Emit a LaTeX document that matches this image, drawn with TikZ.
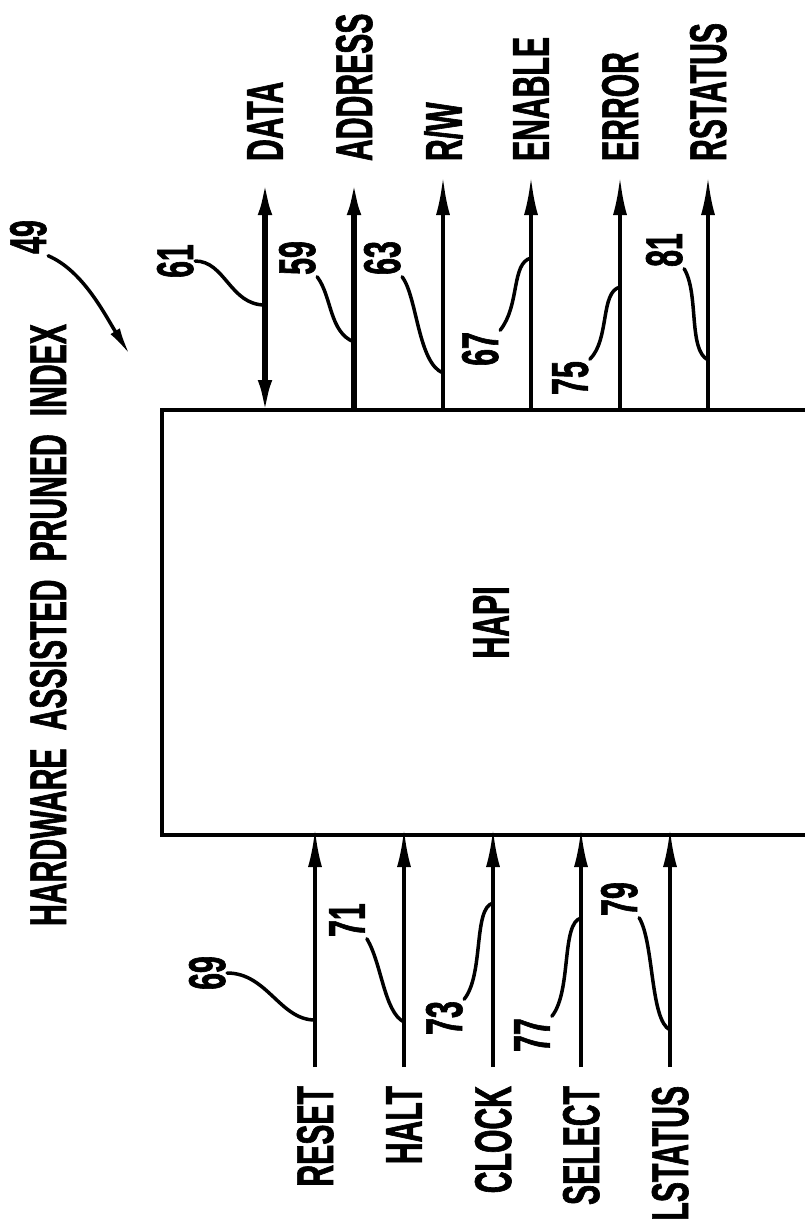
\documentclass[tikz,border=0pt]{standalone}
\usepackage{fontspec}
\setmainfont{Liberation Sans}[FakeStretch=0.58, FakeBold=1.2]
\usetikzlibrary{arrows.meta, calc}

\tikzset{
  sigtext/.style={font=\bfseries\fontsize{52}{52}\selectfont, rotate=90, text depth=0pt, outer sep=0pt},
  toplab/.style={sigtext, anchor=west, inner xsep=22pt, inner ysep=0pt},
  botlab/.style={sigtext, anchor=east, inner xsep=19pt, inner ysep=0pt},
  refnum/.style={sigtext, inner sep=2pt},
  block/.style={draw, line width=4.5pt, minimum width=658pt, minimum height=425pt, inner sep=0pt, outer sep=0pt},
  sig/.style={line width=3.5pt, -{Latex[length=38pt,width=14pt]}, shorten >=-6pt},
  bus/.style={sig, line width=6pt},
  dbus/.style={bus, {Latex[length=38pt,width=14pt]}-{Latex[length=38pt,width=14pt]}, shorten <=-8pt},
  lead/.style={line width=3.5pt, line cap=round},
}

\begin{document}
\begin{tikzpicture}[x=1pt, y=-1pt]
  % Page frame
  \useasboundingbox (0,0) rectangle (805,1228);

  % HAPI block (its right side runs off the page)
  \node[block] (hapi) at (491,622.5) {};
  \node[sigtext] (hapilab) at (hapi.center) {HAPI};

  % Title with its numeral
  \node[sigtext] (title) at (48,625) {HARDWARE\hskip18pt ASSISTED\hskip18pt PRUNED\hskip18pt INDEX};
  \node[refnum] (n49) at (28,237) {49};
  \coordinate (p49) at (130,355);
  \draw[lead, -{Latex[length=28pt,width=11pt]}] (n49.south west) .. controls +(35,15) and +(-25,-40) .. (p49);

  % Outputs along the top
  \foreach \x/\n/\t in {265/data/DATA, 354/addr/ADDRESS, 443/rw/{R/W}, 531/en/ENABLE, 620/err/ERROR, 708/rst/RSTATUS}
    \node[toplab] (\n) at (\x,183) {\t};

  % Inputs along the bottom
  \foreach \x/\n/\t in {315/reset/RESET, 404/halt/HALT, 493/clock/CLOCK, 581/sel/SELECT, 670/lst/LSTATUS}
    \node[botlab] (\n) at (\x,1067) {\t};

  % Signal lines
  \draw[dbus] (data.west |- hapi.north) -- (data.west);
  \draw[bus] (addr.west |- hapi.north) -- (addr.west);
  \foreach \n in {rw, en, err, rst}
    \draw[sig] (\n.west |- hapi.north) -- (\n.west);
  \foreach \n in {reset, halt, clock, sel, lst}
    \draw[sig] (\n.east) -- (\n.east |- hapi.south);

  % Reference numerals, top
  \node[refnum] (n61) at (175,261) {61};
  \node[refnum] (n59) at (297,258) {59};
  \node[refnum] (n63) at (382,258) {63};
  \node[refnum] (n67) at (480,349) {67};
  \node[refnum] (n75) at (570,378) {75};
  \node[refnum] (n81) at (664,250) {81};
  \draw[lead] (n61.south) .. controls +(30,0) and +(-35,0) .. (data.west |- 0,305);
  \draw[lead] (n59.south west) .. controls +(15,20) and +(-25,-10) .. (addr.west |- 0,342);
  \draw[lead] (n63.south west) .. controls +(15,20) and +(-25,-10) .. (rw.west |- 0,373);
  \draw[lead] (n67.south east) .. controls +(20,-25) and +(-20,5) .. (en.west |- 0,258);
  \draw[lead] (n75.south east) .. controls +(20,-20) and +(-20,5) .. (err.west |- 0,287);
  \draw[lead] (n81.south west) .. controls +(15,25) and +(-20,-10) .. (rst.west |- 0,360);

  % Reference numerals, bottom
  \node[refnum] (n69) at (207,973) {69};
  \node[refnum] (n71) at (347,920) {71};
  \node[refnum] (n73) at (444,1018) {73};
  \node[refnum] (n77) at (532,1035) {77};
  \node[refnum] (n79) at (619,899) {79};
  \draw[lead] (n69.south) .. controls +(40,0) and +(-35,0) .. (reset.east |- 0,1020);
  \draw[lead] (n71.south west) .. controls +(15,25) and +(-20,-10) .. (halt.east |- 0,1022);
  \draw[lead] (n73.south east) .. controls +(20,-25) and +(-20,5) .. (clock.east |- 0,903);
  \draw[lead] (n77.south east) .. controls +(20,-25) and +(-20,5) .. (sel.east |- 0,918);
  \draw[lead] (n79.south west) .. controls +(15,25) and +(-20,-10) .. (lst.east |- 0,1030);
\end{tikzpicture}
\end{document}
